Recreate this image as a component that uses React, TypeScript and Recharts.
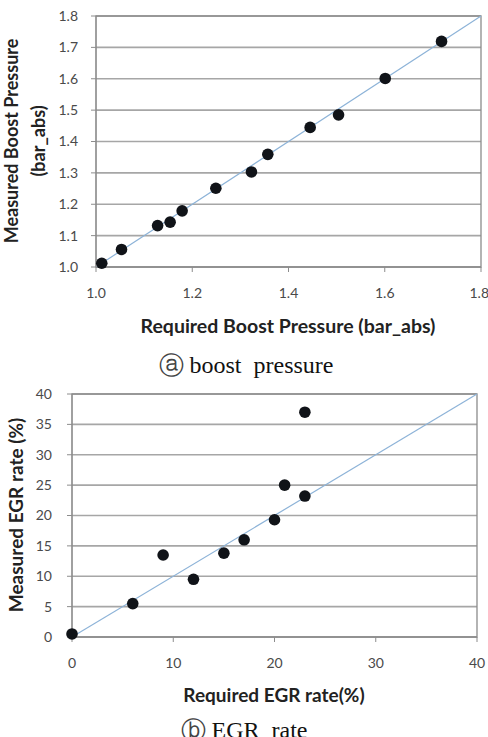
import React from "react";
import {
  CartesianGrid,
  ReferenceArea,
  ReferenceLine,
  Scatter,
  ScatterChart,
  XAxis,
  YAxis,
} from "recharts";

// (a) boost pressure
const boostRequired = [1.012, 1.053, 1.128, 1.154, 1.179, 1.249, 1.323, 1.357, 1.445, 1.504, 1.601, 1.718];
const boostMeasured = [1.012, 1.056, 1.132, 1.143, 1.179, 1.251, 1.303, 1.359, 1.445, 1.485, 1.601, 1.719];
const boostDomain = [1.0, 1.8];
const boostXTicks = [1.0, 1.2, 1.4, 1.6, 1.8];
const boostYTicks = [1.0, 1.1, 1.2, 1.3, 1.4, 1.5, 1.6, 1.7, 1.8];

// (b) EGR rate
const egrRequired = [0, 6, 9, 12, 15, 17, 20, 21, 23, 23];
const egrMeasured = [0.5, 5.5, 13.5, 9.5, 13.8, 16, 19.3, 25, 23.2, 37];
const egrDomain = [0, 40];
const egrXTicks = [0, 10, 20, 30, 40];
const egrYTicks = [0, 5, 10, 15, 20, 25, 30, 35, 40];

const boostData = boostRequired.map((x, i) => ({ x, y: boostMeasured[i] }));
const egrData = egrRequired.map((x, i) => ({ x, y: egrMeasured[i] }));

const SANS = "Lato, 'Open Sans', sans-serif";
const SERIF = "'Liberation Serif', 'DejaVu Serif', serif";
const GRID = "#a6a6a6";
const AXIS = "#8c8c8c";
const TICK = { fill: "#4a4a4a", fontSize: 14, fontFamily: SANS };
const LINE = "#8db3d8";

const Dot = (p: any) => <circle cx={p.cx} cy={p.cy} r={5.8} fill="#101318" />;

const captionStyle: React.CSSProperties = {
  position: "absolute",
  left: 0,
  width: 488,
  textAlign: "center",
  fontFamily: SERIF,
  fontSize: 24,
  color: "#111",
  lineHeight: "28px",
  whiteSpace: "nowrap",
};
const circleStyle: React.CSSProperties = {
  fontFamily: "'DejaVu Sans'",
  fontSize: 25,
  fontWeight: 300,
  color: "#444",
  verticalAlign: "-1px",
};

export default function App() {
  return (
    <div
      style={{
        position: "absolute",
        left: 0,
        top: 0,
        width: 488,
        height: 737,
        background: "#fff",
        overflow: "hidden",
      }}
    >
      <div style={{ position: "absolute", left: 0, top: 0 }}>
        <ScatterChart width={488} height={337} margin={{ top: 16, right: 7, left: 56, bottom: 0 }}>
          <CartesianGrid vertical={false} stroke={GRID} strokeWidth={1.6} />
          <ReferenceArea
            x1={boostDomain[0]}
            x2={boostDomain[1]}
            y1={boostDomain[0]}
            y2={boostDomain[1]}
            fill="none"
            stroke={AXIS}
            strokeWidth={1.3}
          />
          <XAxis
            type="number"
            dataKey="x"
            domain={boostDomain}
            ticks={boostXTicks}
            tickFormatter={(v: number) => v.toFixed(1)}
            height={70}
            tick={TICK}
            tickSize={5}
            tickMargin={16}
            stroke={AXIS}
            label={() => (
              <text x={288} y={333} textAnchor="middle" fontFamily={SANS} fontWeight={700} fontSize={19.5} fill="#222">
                Required Boost Pressure (bar_abs)
              </text>
            )}
          />
          <YAxis
            type="number"
            dataKey="y"
            domain={boostDomain}
            ticks={boostYTicks}
            tickFormatter={(v: number) => v.toFixed(1)}
            width={40}
            tick={TICK}
            tickSize={5}
            tickMargin={13}
            stroke={AXIS}
            label={() => (
              <g fontFamily={SANS} fontWeight={700} fontSize={18} fill="#222">
                <text x={18} y={141} textAnchor="middle" transform="rotate(-90 18 141)">
                  Measured Boost Pressure
                </text>
                <text x={45} y={141} textAnchor="middle" transform="rotate(-90 45 141)">
                  (bar_abs)
                </text>
              </g>
            )}
          />
          <ReferenceLine
            segment={[
              { x: boostDomain[0], y: boostDomain[0] },
              { x: boostDomain[1], y: boostDomain[1] },
            ]}
            stroke={LINE}
            strokeWidth={1.2}
          />
          <Scatter data={boostData} shape={Dot} isAnimationActive={false} />
        </ScatterChart>
      </div>

      <div style={{ ...captionStyle, top: 351, paddingLeft: 2 }}>
        <span style={circleStyle}>ⓐ</span>
        &nbsp;boost&nbsp;&nbsp;pressure
      </div>

      <div style={{ position: "absolute", left: 0, top: 378 }}>
        <ScatterChart width={488} height={329} margin={{ top: 16, right: 11, left: 32, bottom: 0 }}>
          <CartesianGrid vertical={false} stroke={GRID} strokeWidth={1.6} />
          <ReferenceArea
            x1={egrDomain[0]}
            x2={egrDomain[1]}
            y1={egrDomain[0]}
            y2={egrDomain[1]}
            fill="none"
            stroke={AXIS}
            strokeWidth={1.3}
          />
          <XAxis
            type="number"
            dataKey="x"
            domain={egrDomain}
            ticks={egrXTicks}
            height={70}
            tick={TICK}
            tickSize={5}
            tickMargin={16}
            stroke={AXIS}
            label={() => (
              <text x={274} y={324} textAnchor="middle" fontFamily={SANS} fontWeight={700} fontSize={19} fill="#222">
                Required EGR rate(%)
              </text>
            )}
          />
          <YAxis
            type="number"
            dataKey="y"
            domain={egrDomain}
            ticks={egrYTicks}
            width={40}
            tick={TICK}
            tickSize={5}
            tickMargin={15}
            stroke={AXIS}
            label={() => (
              <text
                x={23}
                y={137}
                textAnchor="middle"
                transform="rotate(-90 23 137)"
                fontFamily={SANS}
                fontWeight={700}
                fontSize={19}
                fill="#222"
              >
                Measured EGR rate (%)
              </text>
            )}
          />
          <ReferenceLine
            segment={[
              { x: egrDomain[0], y: egrDomain[0] },
              { x: egrDomain[1], y: egrDomain[1] },
            ]}
            stroke={LINE}
            strokeWidth={1.2}
          />
          <Scatter data={egrData} shape={Dot} isAnimationActive={false} />
        </ScatterChart>
      </div>

      <div style={{ ...captionStyle, top: 716 }}>
        <span style={circleStyle}>ⓑ</span>
        &nbsp;EGR&nbsp;&nbsp;rate
      </div>
    </div>
  );
}
